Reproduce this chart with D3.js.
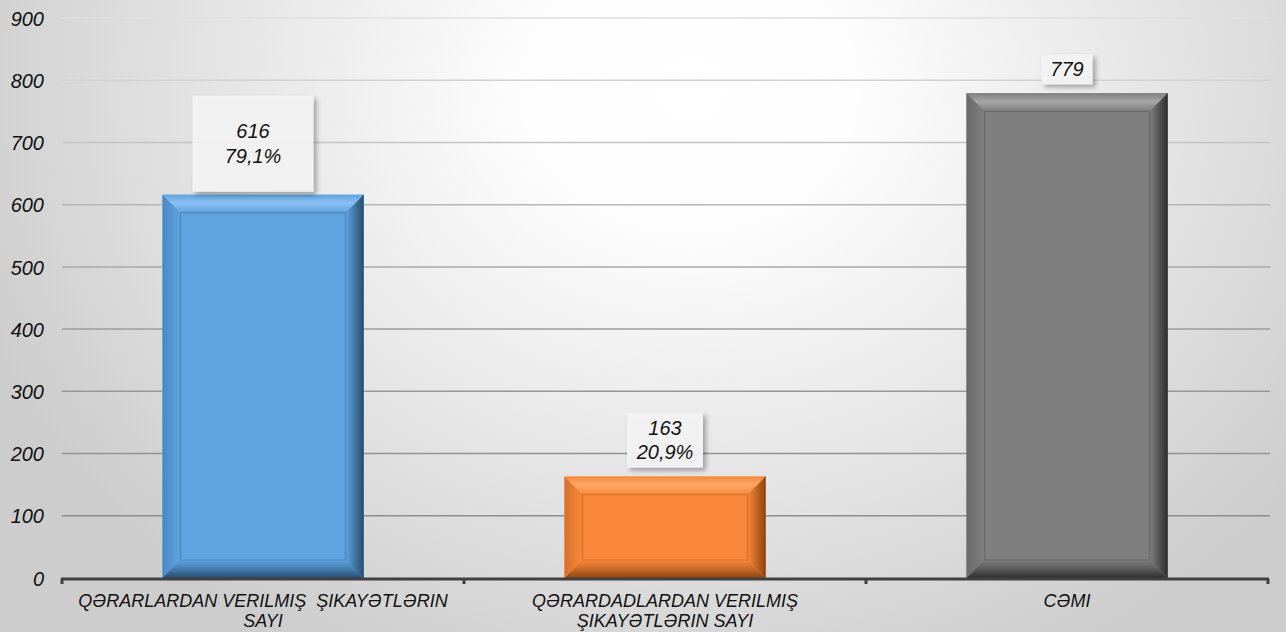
<!DOCTYPE html>
<html>
<head>
<meta charset="utf-8">
<script src="https://cdn.jsdelivr.net/npm/d3@7"></script>
<style>
  html, body { margin: 0; padding: 0; background: #fff; }
  svg { display: block; }
  text { font-family: "Liberation Sans", Arial, sans-serif; font-style: italic; }
</style>
</head>
<body>
<svg id="chart" width="1286" height="632"></svg>
<script>
// ---- data ----
const categories = [
  "QƏRARLARDAN VERILMIŞ ŞIKAYƏTLƏRIN SAYI",
  "QƏRARDADLARDAN VERILMIŞ ŞIKAYƏTLƏRIN SAYI",
  "CƏMI"
];
const categoryLines = [
  ["QƏRARLARDAN VERILMIŞ  ŞIKAYƏTLƏRIN", "SAYI"],
  ["QƏRARDADLARDAN VERILMIŞ", "ŞIKAYƏTLƏRIN SAYI"],
  ["CƏMI"]
];
const values = [616, 163, 779];
const percentLabels = ["79,1%", "20,9%", ""];
const yTicks = [0, 100, 200, 300, 400, 500, 600, 700, 800, 900];

// ---- styles ----
const palette = [
  { face: "#5fa3e0", light: "#8cc0f2", dark: "#274d70", edge: "#4a88c2" },
  { face: "#f9883a", light: "#fca96a", dark: "#8f4410", edge: "#d8702a" },
  { face: "#7f7f7f", light: "#a6a6a6", dark: "#2e2e2e", edge: "#6a6a6a" }
];
// label box geometry (style): width, height, x offset, gap above bar
const labelBoxes = [
  { w: 121, h: 96, dx: -10, gap: 3 },
  { w: 76, h: 55, dx: 0, gap: 9 },
  { w: 51, h: 30, dx: 0, gap: 9 }
];

(function () {
const W = 1286, H = 632;
const mLeft = 62, mRight = 1268, mTop = 18, mBottom = 578;
const svg = d3.select("#chart");
const defs = svg.append("defs");

// background radial gradient (elliptical)
const bg = defs.append("radialGradient").attr("id", "bg")
  .attr("gradientUnits", "userSpaceOnUse")
  .attr("cx", 0).attr("cy", 0).attr("r", 1)
  .attr("gradientTransform", "translate(690,90) scale(760,640)");
bg.append("stop").attr("offset", 0).attr("stop-color", "#ffffff");
bg.append("stop").attr("offset", 0.22).attr("stop-color", "#fdfdfd");
bg.append("stop").attr("offset", 0.6).attr("stop-color", "#e6e6e6");
bg.append("stop").attr("offset", 1).attr("stop-color", "#cdcdcd");
svg.append("rect").attr("width", W).attr("height", H).attr("fill", "url(#bg)");

// gridline gradient
const gg = defs.append("linearGradient").attr("id", "gridg")
  .attr("gradientUnits", "userSpaceOnUse")
  .attr("x1", 0).attr("x2", 0).attr("y1", mTop).attr("y2", mBottom);
gg.append("stop").attr("offset", 0).attr("stop-color", "#e0e0e0");
gg.append("stop").attr("offset", 0.25).attr("stop-color", "#c0c0c0");
gg.append("stop").attr("offset", 0.55).attr("stop-color", "#9c9c9c");
gg.append("stop").attr("offset", 1).attr("stop-color", "#8a8a8a");

// shadow filter for label boxes
const f = defs.append("filter").attr("id", "shadow")
  .attr("x", "-20%").attr("y", "-20%").attr("width", "150%").attr("height", "150%");
f.append("feDropShadow").attr("dx", 3).attr("dy", 3).attr("stdDeviation", 2.5)
  .attr("flood-color", "#000").attr("flood-opacity", 0.35);

// scales
const x = d3.scaleBand().domain(categories).range([mLeft, mRight])
  .paddingInner(0.5).paddingOuter(0.25);
const y = d3.scaleLinear().domain([0, 900]).range([mBottom, mTop]);

// gridlines
svg.append("g").selectAll("line").data(yTicks.filter(d => d > 0)).join("line")
  .attr("x1", mLeft).attr("x2", mRight + 2)
  .attr("y1", d => y(d)).attr("y2", d => y(d))
  .attr("stroke", "url(#gridg)").attr("stroke-width", 1.5);

// y axis labels
const yAxis = d3.axisLeft(y).tickValues(yTicks).tickSize(0).tickPadding(0);
const gy = svg.append("g").attr("transform", "translate(44,0)").call(yAxis);
gy.select(".domain").remove();
gy.attr("font-family", "Liberation Sans, Arial, sans-serif");
gy.selectAll("text").attr("font-size", 20).attr("fill", "#111")
  .style("font-style", "italic").attr("dy", "0.36em");

// gradients per bar
palette.forEach((p, i) => {
  const mk = (id, x1, y1, x2, y2, stops) => {
    const g = defs.append("linearGradient").attr("id", id)
      .attr("x1", x1).attr("y1", y1).attr("x2", x2).attr("y2", y2);
    stops.forEach(s => g.append("stop").attr("offset", s[0]).attr("stop-color", s[1]));
  };
  mk("top" + i, 0, 0, 0, 1, [[0, p.face], [0.45, p.light], [1, p.face]]);
  mk("left" + i, 0, 0, 1, 0, [[0, p.edge], [1, p.face]]);
  mk("right" + i, 0, 0, 1, 0, [[0, p.face], [0.5, d3.interpolateRgb(p.face, p.dark)(0.5)], [1, p.dark]]);
  mk("bot" + i, 0, 0, 0, 1, [[0, p.face], [0.5, d3.interpolateRgb(p.face, p.dark)(0.45)], [1, p.dark]]);
});

// bars
const b = 18;
const bars = svg.append("g").selectAll("g").data(values).join("g");
bars.each(function(v, i) {
  const g = d3.select(this);
  const x0 = x(categories[i]), x1 = x0 + x.bandwidth();
  const y0 = y(v), y1 = y(0);
  const p = palette[i];
  g.append("rect").attr("x", x0).attr("y", y0).attr("width", x1 - x0).attr("height", y1 - y0)
    .attr("fill", p.face);
  const poly = pts => pts.map(q => q.join(",")).join(" ");
  g.append("polygon").attr("points", poly([[x0, y0], [x0 + b, y0 + b], [x0 + b, y1 - b], [x0, y1]]))
    .attr("fill", `url(#left${i})`);
  g.append("polygon").attr("points", poly([[x1, y0], [x1, y1], [x1 - b, y1 - b], [x1 - b, y0 + b]]))
    .attr("fill", `url(#right${i})`);
  g.append("polygon").attr("points", poly([[x0, y1], [x1, y1], [x1 - b, y1 - b], [x0 + b, y1 - b]]))
    .attr("fill", `url(#bot${i})`);
  g.append("polygon").attr("points", poly([[x0, y0], [x1, y0], [x1 - b, y0 + b], [x0 + b, y0 + b]]))
    .attr("fill", `url(#top${i})`);
  g.append("rect").attr("x", x0 + b).attr("y", y0 + b)
    .attr("width", x1 - x0 - 2 * b).attr("height", Math.max(0, y1 - y0 - 2 * b))
    .attr("fill", "none").attr("stroke", p.edge).attr("stroke-width", 1.2);
  g.append("line").attr("x1", x1 - 0.5).attr("x2", x1 - 0.5).attr("y1", y0).attr("y2", y1)
    .attr("stroke", p.dark).attr("stroke-width", 1);
});

// axis line and ticks
const step = x.step();
const boundaries = d3.range(categories.length + 1).map(k => mLeft + k * step);
svg.append("line").attr("x1", mLeft - 1).attr("x2", mRight + 1)
  .attr("y1", mBottom + 1).attr("y2", mBottom + 1)
  .attr("stroke", "#404040").attr("stroke-width", 3);
svg.append("g").selectAll("line").data(boundaries).join("line")
  .attr("x1", d => d).attr("x2", d => d)
  .attr("y1", mBottom + 1).attr("y2", mBottom + 6)
  .attr("stroke", "#404040").attr("stroke-width", 3);

// category labels
svg.append("g").selectAll("text").data(categories).join("text")
  .attr("x", d => x(d) + x.bandwidth() / 2)
  .attr("y", 607)
  .attr("text-anchor", "middle")
  .attr("font-size", 18).attr("fill", "#111")
  .each(function(d, i) {
    const t = d3.select(this);
    categoryLines[i].forEach((line, k) => {
      t.append("tspan").attr("x", x(d) + x.bandwidth() / 2)
        .attr("dy", k === 0 ? 0 : 20).attr("xml:space", "preserve").text(line);
    });
  });

// value labels with boxes
const lg = svg.append("g").selectAll("g").data(values).join("g");
lg.each(function(v, i) {
  const g = d3.select(this);
  const bx = labelBoxes[i];
  const cx = x(categories[i]) + x.bandwidth() / 2 + bx.dx;
  const by1 = y(v) - bx.gap, by0 = by1 - bx.h;
  g.append("rect").attr("x", cx - bx.w / 2).attr("y", by0).attr("width", bx.w).attr("height", bx.h)
    .attr("fill", "#f4f4f4").attr("fill-opacity", 0.92).attr("filter", "url(#shadow)");
  const lines = [String(v)];
  if (percentLabels[i]) lines.push(percentLabels[i]);
  const lh = 24.5;
  const cy = (by0 + by1) / 2;
  const firstBase = cy - (lines.length - 1) * lh / 2 + 7;
  lines.forEach((s, k) => {
    g.append("text").attr("x", cx).attr("y", firstBase + k * lh)
      .attr("text-anchor", "middle").attr("font-size", 20).attr("fill", "#111").text(s);
  });
});
})();
</script>
</body>
</html>
